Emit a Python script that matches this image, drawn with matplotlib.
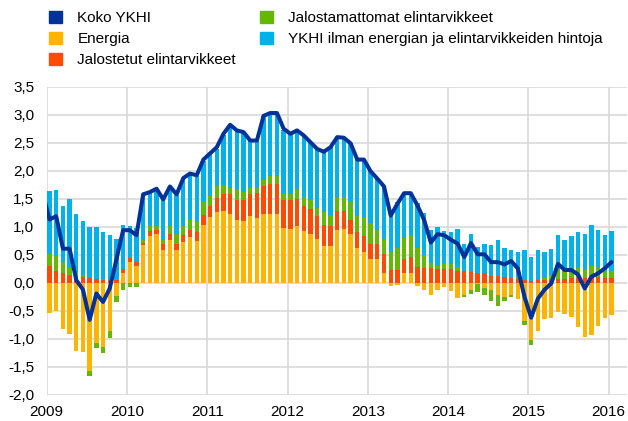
import numpy as np
import matplotlib
matplotlib.use("Agg")
import matplotlib.pyplot as plt
from matplotlib.patches import Patch

plt.rcParams['font.family'] = ['Liberation Sans', 'DejaVu Sans']

# Monthly contributions, Jan 2009 .. Jan 2016 (percentage points)
years = ['2009', '2010', '2011', '2012', '2013', '2014', '2015', '2016']

energia = [
    -0.53, -0.50, -0.83, -0.91, -1.21, -1.24, -1.57, -1.07, -1.14, -0.86, -0.23, 0.17,
    0.37, 0.31, 0.67, 0.83, 0.87, 0.58, 0.76, 0.58, 0.73, 0.82, 0.74, 1.03,
    1.17, 1.26, 1.28, 1.23, 1.12, 1.10, 1.19, 1.16, 1.23, 1.23, 1.23, 0.98,
    0.97, 1.01, 0.92, 0.88, 0.79, 0.65, 0.65, 0.95, 0.97, 0.87, 0.62, 0.56,
    0.42, 0.42, 0.18, -0.05, -0.03, 0.18, 0.17, -0.05, -0.12, -0.22, -0.12, -0.07,
    -0.14, -0.27, -0.22, -0.13, -0.02, -0.10, -0.12, -0.22, -0.25, -0.22, -0.28, -0.68,
    -1.02, -0.86, -0.65, -0.62, -0.52, -0.55, -0.60, -0.78, -0.96, -0.93, -0.77, -0.62,
    -0.58]

jalostetut = [
    0.31, 0.21, 0.17, 0.14, 0.11, 0.10, 0.09, 0.07, 0.05, 0.05, 0.06, 0.08,
    0.08, 0.06, 0.05, 0.09, 0.08, 0.11, 0.12, 0.11, 0.12, 0.12, 0.17, 0.19,
    0.21, 0.25, 0.30, 0.35, 0.35, 0.37, 0.40, 0.45, 0.49, 0.53, 0.53, 0.49,
    0.50, 0.49, 0.46, 0.43, 0.40, 0.39, 0.36, 0.33, 0.31, 0.26, 0.28, 0.28,
    0.28, 0.28, 0.34, 0.23, 0.23, 0.24, 0.29, 0.28, 0.27, 0.26, 0.24, 0.24,
    0.24, 0.21, 0.21, 0.20, 0.18, 0.17, 0.12, 0.12, 0.11, 0.09, 0.07, 0.05,
    0.03, 0.05, 0.06, 0.07, 0.07, 0.07, 0.08, 0.08, 0.08, 0.10, 0.10, 0.08,
    0.08]

jalostamattomat = [
    0.21, 0.27, 0.20, 0.12, 0.06, 0.02, -0.09, -0.09, -0.11, -0.13, -0.11, -0.12,
    -0.08, -0.07, 0.04, 0.09, 0.07, 0.08, 0.14, 0.19, 0.17, 0.18, 0.19, 0.23,
    0.17, 0.21, 0.16, 0.11, 0.20, 0.15, 0.11, 0.09, 0.11, 0.14, 0.14, 0.12,
    0.12, 0.17, 0.16, 0.16, 0.14, 0.22, 0.21, 0.26, 0.26, 0.32, 0.30, 0.33,
    0.36, 0.25, 0.27, 0.32, 0.39, 0.38, 0.39, 0.34, 0.22, 0.10, 0.07, 0.10,
    0.10, 0.07, -0.03, -0.06, -0.14, -0.12, -0.20, -0.20, -0.07, -0.03, 0.02, -0.07,
    -0.08, 0.00, 0.04, 0.05, 0.17, 0.16, 0.18, 0.18, 0.15, 0.21, 0.19, 0.13,
    0.13]

ydin = [
    1.12, 1.17, 1.01, 1.23, 1.06, 0.98, 0.90, 0.92, 0.85, 0.80, 0.73, 0.78,
    0.56, 0.61, 0.82, 0.59, 0.64, 0.70, 0.68, 0.68, 0.84, 0.81, 0.80, 0.73,
    0.75, 0.67, 0.89, 1.12, 1.03, 1.07, 0.85, 0.84, 1.15, 1.11, 1.12, 1.13,
    1.07, 1.05, 1.09, 1.04, 1.06, 1.08, 1.20, 1.06, 1.05, 1.04, 1.00, 1.03,
    0.93, 0.91, 0.93, 0.70, 0.82, 0.80, 0.75, 0.81, 0.75, 0.58, 0.68, 0.58,
    0.56, 0.69, 0.49, 0.68, 0.46, 0.53, 0.55, 0.64, 0.52, 0.50, 0.46, 0.53,
    0.44, 0.54, 0.46, 0.49, 0.61, 0.53, 0.57, 0.64, 0.64, 0.73, 0.65, 0.64,
    0.71]

# Headline HICP, Dec 2008 .. Jan 2016 (first point lies just left of the plot)
koko_ykhi = [
    1.60,
    1.13, 1.19, 0.61, 0.61, 0.05, -0.12, -0.66, -0.19, -0.34, -0.10, 0.42, 0.94,
    0.94, 0.85, 1.58, 1.62, 1.68, 1.49, 1.72, 1.58, 1.87, 1.95, 1.92, 2.20,
    2.31, 2.42, 2.66, 2.82, 2.72, 2.69, 2.54, 2.54, 2.98, 3.03, 3.03, 2.75,
    2.66, 2.72, 2.63, 2.51, 2.39, 2.34, 2.42, 2.60, 2.59, 2.49, 2.20, 2.20,
    1.99, 1.86, 1.72, 1.20, 1.41, 1.60, 1.60, 1.38, 1.12, 0.72, 0.87, 0.85,
    0.77, 0.70, 0.46, 0.71, 0.51, 0.51, 0.37, 0.37, 0.33, 0.39, 0.26, -0.25,
    -0.62, -0.28, -0.12, -0.01, 0.34, 0.23, 0.23, 0.15, -0.10, 0.11, 0.17, 0.26,
    0.37]

labels = ['Koko YKHI', 'Energia', 'Jalostetut elintarvikkeet',
          'Jalostamattomat elintarvikkeet',
          'YKHI ilman energian ja elintarvikkeiden hintoja']
c_line = '#003299'
c_en = '#FFB400'
c_proc = '#FF4B00'
c_unproc = '#65B800'
c_core = '#00B1EA'

fig = plt.figure(figsize=(6.28, 4.21), dpi=100)
W, H = 628, 421
x0, x1, ytop, ybot = 46.7, 627.0, 86.7, 395.0
ax = fig.add_axes([x0 / W, 1 - ybot / H, (x1 - x0) / W, (ybot - ytop) / H])

n = len(energia)
x = np.arange(n)
pos = np.zeros(n)
neg = np.zeros(n)
for vals, col in [(energia, c_en), (jalostetut, c_proc),
                  (jalostamattomat, c_unproc), (ydin, c_core)]:
    v = np.array(vals, dtype=float)
    bottom = np.where(v >= 0, pos, neg)
    ax.bar(x, v, bottom=bottom, width=0.65, color=col, linewidth=0, zorder=2)
    pos += np.clip(v, 0, None)
    neg += np.clip(v, None, 0)

xl = np.arange(-1, n)
ax.plot(xl, koko_ykhi, color=c_line, lw=2.9, zorder=3,
        solid_joinstyle='round', solid_capstyle='round')

off = 0.42
ax.set_xlim(-off, -off + (x1 - x0) / 6.69)
ax.set_ylim(-2.0, 3.5)
ax.set_xticks([12 * k - off for k in range(len(years))])
ax.set_xticklabels(years)
yt = np.arange(-2.0, 3.51, 0.5)
ax.set_yticks(yt)
ax.set_yticklabels([f"{v:.1f}".replace('.', ',') for v in yt])
ax.grid(True, color='#d9d9d9', lw=1.2, zorder=0)
ax.set_axisbelow(True)
for s in ax.spines.values():
    s.set_visible(False)
ax.tick_params(length=0, labelsize=11, colors='#000000')
ax.tick_params(axis='y', pad=9)
ax.tick_params(axis='x', pad=7)

handles = [Patch(color=c) for c in [c_line, c_en, c_proc, c_unproc, c_core]]
fig.legend(handles, labels, ncol=2, loc='upper left',
           bbox_to_anchor=(49 / W, 1 - 11 / H), frameon=False, fontsize=11,
           handlelength=0.85, handleheight=0.85, handletextpad=1.0,
           columnspacing=1.58, labelspacing=0.43, borderpad=0, borderaxespad=0)

fig.savefig('out.png', dpi=100)
